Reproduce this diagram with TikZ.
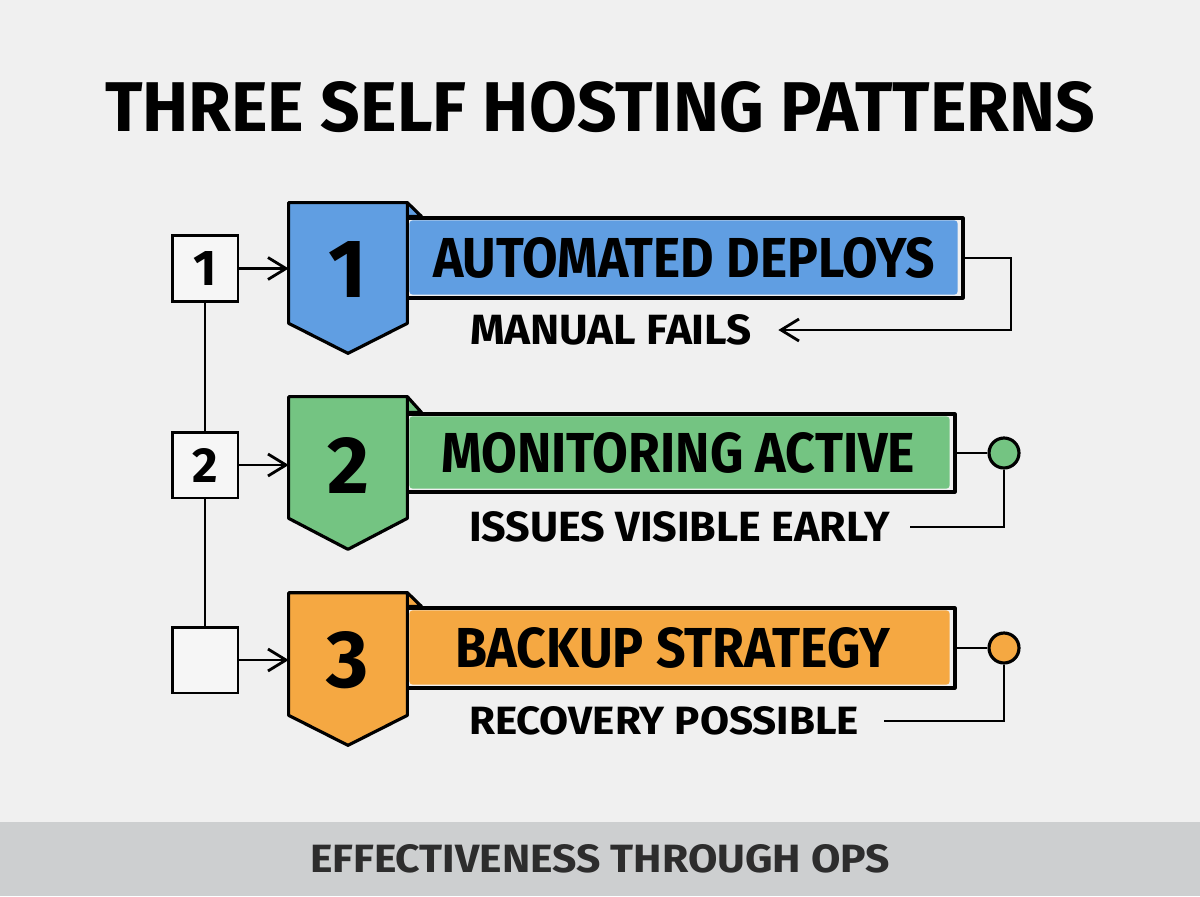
\documentclass[tikz,border=0pt]{standalone}
\usepackage{graphicx}
\usepackage{fontspec}
\setmainfont{Fira Sans}
\usetikzlibrary{arrows.meta,calc}
\newlength\pxu \setlength\pxu{0.2mm}
\newcommand\fitt[3]{\resizebox{#1\pxu}{#2\pxu}{\bfseries #3}}
\newcommand\fith[2]{\resizebox{!}{#1\pxu}{\bfseries #2}}
\definecolor{bg}{RGB}{240,240,240}
\definecolor{foot}{RGB}{205,207,208}
\definecolor{cblue}{RGB}{96,158,226}
\definecolor{cgreen}{RGB}{116,196,130}
\definecolor{corange}{RGB}{245,168,66}
\definecolor{boxfill}{RGB}{246,246,246}
\definecolor{foottext}{RGB}{45,45,45}
\begin{document}
\begin{tikzpicture}[x=0.02cm,y=-0.02cm,
  ol/.style={line width=1.8pt, line join=round},
  conn/.style={line width=1.6pt},
  tip/.style={-{Straight Barb[length=3.6mm,width=4.4mm]}},
  numbox/.style={draw, line width=1.7pt, fill=boxfill, minimum size=66\pxu, inner sep=0pt},
  lbl/.style={inner sep=0pt, text=black},
  banner/.style={draw, ol, inner sep=0pt},
  shieldbox/.style={inner sep=0pt, minimum width=118\pxu},
  dot/.style={circle, draw, ol, minimum size=30\pxu, inner sep=0pt}
]
\useasboundingbox (0,0) rectangle (1200,896);
\fill[bg] (0,0) rectangle (1200,896);
\fill[foot] (0,822) rectangle (1200,896);

\node[lbl] (title) at (600,107) {\fitt{990}{50}{THREE SELF HOSTING PATTERNS}};
\node[lbl, text=foottext] (footer) at (600,859) {\fitt{580}{28}{EFFECTIVENESS THROUGH OPS}};

% ---------- Row 1
\node[banner, minimum width=556\pxu, minimum height=80\pxu] (t1) at (685,258) {};
\fill[cblue, rounded corners=3\pxu] ($(t1.north west)+(4,4)$) rectangle ($(t1.south east)+(-7,-5)$);
\node[shieldbox, minimum height=120\pxu] (s1) at (348,263) {};
\filldraw[fill=cblue, ol] (s1.north east) -- ($(t1.north west)+(16,0)$) -- (t1.north west) -- cycle;
\filldraw[fill=cblue, ol] (s1.north west) -- (s1.north east) -- (s1.south east) -- ($(s1.south)+(0,30)$) -- (s1.south west) -- cycle;
\node[lbl] (n1) at (348,269) {\fith{56}{1}};
\node[lbl] (h1) at (684,258) {\fitt{502}{40}{AUTOMATED DEPLOYS}};
\node[lbl] (m1) at (611,330) {\fitt{282}{30}{MANUAL FAILS}};
\node[numbox] (b1) at (205,268.5) {\fith{34}{1}};
\draw[conn,tip] (b1.east) -- (b1.east -| s1.west);
\coordinate (k1) at (1011,330);
\draw[conn,tip] (t1.east) -| (k1) -- ([xshift=26\pxu]m1.east);

% ---------- Row 2
\node[banner, minimum width=548\pxu, minimum height=78\pxu] (t2) at (681,453) {};
\fill[cgreen, rounded corners=3\pxu] ($(t2.north west)+(4,4)$) rectangle ($(t2.south east)+(-7,-5)$);
\node[shieldbox, minimum height=121\pxu] (s2) at (348,457.5) {};
\filldraw[fill=cgreen, ol] (s2.north east) -- ($(t2.north west)+(16,0)$) -- (t2.north west) -- cycle;
\filldraw[fill=cgreen, ol] (s2.north west) -- (s2.north east) -- (s2.south east) -- ($(s2.south)+(0,31)$) -- (s2.south west) -- cycle;
\node[lbl] (n2) at (348,465) {\fith{56}{2}};
\node[lbl] (h2) at (678,453) {\fitt{474}{40}{MONITORING ACTIVE}};
\node[lbl] (i2) at (679.5,527) {\fitt{421}{30}{ISSUES VISIBLE EARLY}};
\node[numbox] (b2) at (205,465) {\fith{34}{2}};
\draw[conn,tip] (b2.east) -- (b2.east -| s2.west);
\node[dot, fill=cgreen] (c2) at (1004,453) {};
\draw[conn] (t2.east) -- (c2.west);
\draw[conn] (c2.south) |- ([xshift=20\pxu]i2.east);

% ---------- Row 3
\node[banner, minimum width=548\pxu, minimum height=80\pxu] (t3) at (681,648) {};
\fill[corange, rounded corners=3\pxu] ($(t3.north west)+(4,4)$) rectangle ($(t3.south east)+(-7,-5)$);
\node[shieldbox, minimum height=122\pxu] (s3) at (348,654) {};
\filldraw[fill=corange, ol] (s3.north east) -- ($(t3.north west)+(16,0)$) -- (t3.north west) -- cycle;
\filldraw[fill=corange, ol] (s3.north west) -- (s3.north east) -- (s3.south east) -- ($(s3.south)+(0,30)$) -- (s3.south west) -- cycle;
\node[lbl] (n3) at (348,660) {\fith{56}{3}};
\node[lbl] (h3) at (672.5,648) {\fitt{435}{40}{BACKUP STRATEGY}};
\node[lbl] (r3) at (664,721) {\fitt{390}{28}{RECOVERY POSSIBLE}};
\node[numbox] (b3) at (205,660) {};
\draw[conn,tip] (b3.east) -- (b3.east -| s3.west);
\node[dot, fill=corange] (c3) at (1004,648) {};
\draw[conn] (t3.east) -- (c3.west);
\draw[conn] (c3.south) |- ([xshift=25\pxu]r3.east);

% ---------- vertical spine
\draw[conn] (b1.south) -- (b2.north);
\draw[conn] (b2.south) -- (b3.north);
\end{tikzpicture}
\end{document}
